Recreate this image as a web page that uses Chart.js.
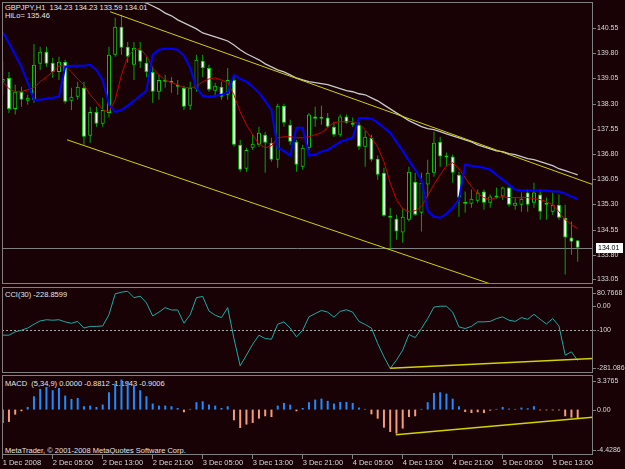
<!DOCTYPE html>
<html>
<head>
<meta charset="utf-8">
<script src="https://cdn.jsdelivr.net/npm/chart.js@4.4.1/dist/chart.umd.min.js"></script>
<style>
  html, body { margin: 0; padding: 0; background: #180206; }
  #wrap { position: relative; width: 625px; height: 469px; background: #180206; overflow: hidden;
          font-family: 'Liberation Sans', Arial, sans-serif; }
  canvas { position: absolute; left: 0; z-index: 1; }
  .lbl { position: absolute; z-index: 0; color: #e4e4e4; font-size: 7.5px; line-height: 9px; white-space: pre; }
</style>
</head>
<body>
<div id="wrap">
  <div class="lbl" style="left:5px;top:3px">GBPJPY,H1  134.23 134.23 133.59 134.01</div>
  <div class="lbl" style="left:5px;top:11px">HiLo= 135.46</div>
  <div class="lbl" style="left:5px;top:290px">CCI(30) -228.8599</div>
  <div class="lbl" style="left:5px;top:379px">MACD  (5,34,9) 0.0000 -0.8812 -1.1943 -0.9006</div>
  <div class="lbl" style="left:5px;top:446px">MetaTrader, © 2001-2008 MetaQuotes Software Corp.</div>
  <canvas id="main" style="top:0" width="625" height="286"></canvas>
  <canvas id="cci" style="top:285px" width="625" height="90"></canvas>
  <canvas id="macd" style="top:373px" width="625" height="96"></canvas>
</div>
<script>
// GBPJPY H1, one entry per bar (bar 0 = 1 Dec 21:00 ... bar 92 = 5 Dec 17:00)
const open = [138.95, 139.06, 138.14, 138.65, 138.38, 138.41, 139.48, 139.84, 139.51, 139.24,
  139.54, 138.38, 138.50, 138.77, 137.34, 138.05, 137.70, 138.02, 139.75, 140.58,
  139.99, 139.45, 139.90, 139.51, 139.24, 138.65, 138.98, 138.95, 138.80, 138.77,
  138.23, 138.74, 139.57, 139.36, 138.68, 138.80, 138.56, 139.00, 137.07, 136.36,
  136.98, 137.07, 137.37, 137.13, 136.63, 138.23, 137.67, 137.16, 136.42, 136.98,
  137.91, 137.85, 137.88, 137.61, 137.37, 137.91, 137.73, 137.67, 137.01, 137.28,
  136.66, 136.24, 134.90, 134.87, 134.46, 134.84, 135.97, 135.05, 135.89, 136.24,
  137.16, 136.69, 136.72, 136.18, 135.32, 135.32, 135.41, 135.68, 135.35, 135.53,
  135.53, 135.80, 135.26, 135.29, 135.65, 135.35, 135.59, 135.29, 135.08, 135.29,
  134.90, 134.31, 134.23];
const high = [139.54, 139.24, 138.86, 138.80, 138.56, 140.07, 139.99, 139.99, 139.66, 139.69,
  139.60, 138.77, 138.95, 138.95, 138.20, 138.20, 138.47, 139.99, 140.85, 140.94,
  140.13, 140.13, 140.13, 139.69, 139.39, 139.15, 139.15, 139.09, 139.00, 138.83,
  138.95, 139.75, 139.75, 139.45, 138.92, 138.95, 139.36, 139.15, 137.22, 136.98,
  137.37, 137.61, 137.46, 137.28, 138.29, 138.29, 137.82, 137.22, 137.07, 138.02,
  138.20, 138.23, 138.02, 137.76, 137.97, 137.97, 137.88, 137.76, 137.49, 137.37,
  136.75, 136.39, 135.20, 134.99, 135.20, 136.42, 136.24, 136.24, 136.63, 137.46,
  137.31, 136.84, 136.78, 136.27, 135.68, 135.74, 135.74, 135.74, 135.59, 135.80,
  135.83, 135.83, 135.50, 135.65, 135.74, 135.94, 135.74, 135.50, 135.65, 135.59,
  135.29, 134.79, 134.23];
const low = [138.56, 138.02, 137.97, 138.20, 138.26, 138.32, 139.30, 139.39, 139.06, 139.00,
  138.29, 138.11, 138.41, 137.07, 137.13, 137.61, 137.61, 137.88, 139.69, 139.75,
  139.51, 139.00, 139.36, 139.09, 138.32, 138.41, 138.77, 138.62, 138.56, 138.11,
  138.11, 138.65, 139.09, 138.65, 138.50, 138.41, 138.41, 137.01, 136.27, 136.27,
  136.92, 137.01, 136.24, 136.57, 136.39, 137.61, 137.07, 136.27, 136.33, 136.92,
  137.61, 137.67, 137.58, 137.31, 137.31, 137.70, 137.61, 136.92, 136.42, 136.57,
  136.03, 134.93, 133.95, 134.25, 134.16, 134.79, 134.96, 134.49, 135.50, 136.12,
  136.42, 136.42, 135.94, 134.93, 135.05, 135.20, 135.35, 135.14, 135.20, 135.47,
  135.44, 135.23, 135.14, 135.08, 135.08, 135.20, 134.84, 134.84, 134.99, 134.84,
  133.21, 133.80, 133.59];
const close = [139.03, 138.14, 138.65, 138.41, 138.47, 139.45, 139.84, 139.48, 139.24, 139.54,
  138.35, 138.50, 138.80, 137.31, 138.05, 137.70, 138.11, 139.75, 140.58, 139.96,
  139.69, 139.96, 139.54, 139.24, 138.65, 139.00, 138.95, 138.92, 138.83, 138.20,
  138.77, 139.60, 139.36, 138.71, 138.83, 138.50, 139.00, 137.07, 136.33, 136.92,
  137.10, 137.43, 137.13, 136.63, 138.23, 137.73, 137.16, 136.48, 136.98, 137.97,
  137.85, 137.88, 137.61, 137.37, 137.91, 137.73, 137.67, 137.01, 137.31, 136.63,
  136.18, 134.96, 134.96, 134.49, 134.93, 136.27, 134.99, 135.94, 136.24, 137.13,
  136.72, 136.75, 136.24, 135.50, 135.38, 135.47, 135.65, 135.35, 135.53, 135.50,
  135.80, 135.29, 135.35, 135.47, 135.29, 135.65, 135.08, 135.35, 135.29, 134.90,
  134.31, 134.19, 134.01];

// HiLo (blue), short MA (red), long MA (silver)
const hilo = [140.43, 140.10, 139.75, 139.39, 138.92, 138.41, 138.41, 138.44, 138.47, 138.50,
  139.39, 139.42, 139.42, 139.42, 139.45, 139.30, 139.00, 138.26, 138.05, 138.11,
  138.23, 138.38, 138.53, 138.68, 139.75, 139.90, 139.93, 139.93, 139.90, 139.72,
  139.36, 138.77, 138.53, 138.50, 138.53, 138.56, 138.62, 139.15, 139.03, 138.95,
  138.80, 138.62, 138.38, 138.11, 136.98, 136.89, 136.75, 137.58, 137.58, 136.75,
  136.78, 136.87, 136.92, 137.04, 137.16, 137.22, 137.28, 137.87, 137.87, 137.85,
  137.73, 137.58, 137.43, 137.16, 136.89, 136.60, 136.33, 136.03, 135.11, 134.93,
  134.90, 135.02, 135.20, 135.44, 136.48, 136.45, 136.42, 136.39, 136.33, 136.18,
  136.03, 135.89, 135.74, 135.71, 135.71, 135.71, 135.71, 135.71, 135.68, 135.68,
  135.62, 135.53, 135.46];
const maFast = [138.95, 138.74, 138.65, 138.65, 138.71, 138.77, 138.95, 139.09, 139.24, 139.42,
  139.42, 139.24, 139.03, 138.86, 138.56, 138.35, 138.11, 138.05, 138.41, 139.15,
  139.69, 139.90, 139.93, 139.72, 139.36, 139.15, 139.00, 138.92, 138.86, 138.77,
  138.77, 138.80, 138.95, 139.03, 139.06, 139.00, 138.92, 138.56, 138.05, 137.67,
  137.37, 137.10, 136.98, 137.04, 137.28, 137.31, 137.31, 137.28, 137.28, 137.31,
  137.37, 137.43, 137.58, 137.73, 137.76, 137.76, 137.76, 137.70, 137.52, 137.28,
  137.01, 136.57, 135.94, 135.44, 135.17, 135.08, 135.11, 135.23, 135.56, 135.89,
  136.18, 136.45, 136.54, 136.36, 136.09, 135.83, 135.62, 135.50, 135.44, 135.50,
  135.53, 135.50, 135.50, 135.50, 135.50, 135.47, 135.44, 135.38, 135.29, 135.08,
  134.84, 134.70, 134.58];
const maSlow = [null, null, null, null, null, null, null, null, null, null,
  null, null, null, null, null, null, null, null, null, null,
  null, null, 141.35, 141.29, 141.20, 141.11, 140.99, 140.91, 140.79, 140.70,
  140.61, 140.52, 140.40, 140.34, 140.28, 140.22, 140.16, 140.04, 139.90, 139.78,
  139.69, 139.60, 139.48, 139.39, 139.30, 139.24, 139.15, 139.06, 139.00, 138.95,
  138.92, 138.89, 138.86, 138.80, 138.74, 138.68, 138.65, 138.59, 138.56, 138.47,
  138.38, 138.26, 138.14, 138.02, 137.91, 137.79, 137.70, 137.61, 137.55, 137.52,
  137.46, 137.40, 137.34, 137.28, 137.22, 137.16, 137.07, 137.01, 136.95, 136.89,
  136.87, 136.81, 136.78, 136.72, 136.66, 136.63, 136.57, 136.51, 136.45, 136.36,
  136.30, 136.24, 136.18];

// CCI(30) and MACD(5,34,9) histogram
const cci = [-122, -122, -108, -101, -92, -76, -62, -57, -59, -57,
  -66, -72, -64, -92, -85, -85, -83, -36, 52, 59,
  63, 36, 42, 14, -41, -25, -6, -16, -16, -71,
  -36, 36, 41, -20, -38, -48, -6, -136, -251, -206,
  -160, -122, -136, -139, -76, -66, -92, -129, -101, -45,
  -31, -18, -25, -46, -22, -15, -25, -64, -77, -92,
  -157, -213, -262, -227, -185, -119, -132, -94, -52, -4,
  0, 0, -25, -87, -94, -85, -66, -66, -64, -52,
  -45, -59, -64, -48, -55, -34, -55, -75, -52, -83,
  -206, -192, -228.86];
const macd = [-1.30, -1.20, -0.49, -0.16, 0.26, 1.30, 2.02, 2.21, 1.89, 2.11,
  1.37, 1.04, 1.14, 0.33, 0.39, 0.26, 0.49, 1.69, 2.54, 2.93,
  2.76, 2.44, 1.89, 1.30, 0.59, 0.39, 0.39, 0.33, 0.16, -0.26,
  0.07, 0.72, 0.81, 0.49, 0.39, 0.16, 0.33, -1.04, -1.79, -1.46,
  -1.30, -0.88, -0.65, -0.72, 0.39, 0.65, 0.49, -0.16, 0.16, 0.72,
  0.98, 1.07, 0.85, 0.59, 0.75, 0.75, 0.65, 0.20, 0.07, -0.46,
  -0.88, -1.76, -2.18, -2.34, -1.85, -0.72, -0.65, 0.07, 0.72, 1.63,
  1.69, 1.56, 1.07, 0.33, -0.23, -0.33, -0.26, -0.33, -0.10, 0.07,
  0.26, 0.10, 0.07, 0.20, 0.13, 0.33, -0.07, -0.07, -0.07, -0.07,
  -0.65, -0.78, -0.88];

// trend lines drawn on the chart: [bar, value] pairs
const trendUpper = [[17.2, 141.03], [94.4, 135.89]];
const trendLower = [[10.3, 137.22], [78.4, 132.91]];
const trendCci = [[62, -261.5], [94.4, -219.7]];
const trendMacd = [[62.9, -2.45], [94.4, -0.75]];

// axis ticks
const tickBars = [0, 8, 16, 24, 32, 40, 48, 56, 64, 72, 80, 88];
const tickLabels = ['1 Dec 2008', '2 Dec 05:00', '2 Dec 13:00', '2 Dec 21:00', '3 Dec 05:00', '3 Dec 13:00',
  '3 Dec 21:00', '4 Dec 05:00', '4 Dec 13:00', '4 Dec 21:00', '5 Dec 05:00', '5 Dec 13:00'];
const priceTicks = [140.55, 139.80, 139.05, 138.30, 137.55, 136.80, 136.05, 135.30, 134.55, 133.80, 133.05];
const cciTicks = [80.7668, 0, -100, -281.086];
const cciTickLabels = ['80.7668', '0.00', '-100', '-281.086'];
const macdTicks = [3.3765, 0, -4.4286];
const macdTickLabels = ['3.3765', '0.00', '-4.4286'];

const BG = '#180206';
const GRID = '#808080';
const TXT = '#d8d8d8';
const FONT = '7px "Liberation Sans", Arial, sans-serif';
const xMin = -0.112, xMax = 94.45;

const pts = arr => arr.map((v, i) => ({x: i, y: v}));
const seg = arr => arr.map(p => ({x: p[0], y: p[1]}));

// frame, right scale labels, level lines and the price box
const frame = {
  id: 'frame',
  beforeDatasetsDraw(chart, args, o) {
    const {ctx, chartArea: a} = chart;
    const y = chart.scales.y;
    ctx.save();
    (o.levels || []).forEach(lv => {
      const py = Math.round(y.getPixelForValue(lv.value)) + 0.5;
      ctx.strokeStyle = lv.color;
      ctx.lineWidth = 1;
      ctx.setLineDash(lv.dash || []);
      ctx.beginPath(); ctx.moveTo(a.left, py); ctx.lineTo(a.right, py); ctx.stroke();
    });
    ctx.restore();
  },
  afterDraw(chart, args, o) {
    const {ctx, chartArea: a} = chart;
    const y = chart.scales.y;
    ctx.save();
    ctx.strokeStyle = GRID;
    ctx.lineWidth = 1;
    ctx.strokeRect(a.left + 0.5, a.top + 0.5, a.right - a.left - 1, a.bottom - a.top - 1);
    ctx.font = FONT;
    ctx.textBaseline = 'middle';
    o.ticks.forEach((v, k) => {
      let py = Math.round(y.getPixelForValue(v));
      py = Math.min(Math.max(py, a.top + 6), a.bottom - 5);
      ctx.strokeStyle = GRID;
      ctx.beginPath(); ctx.moveTo(a.right, py + 0.5); ctx.lineTo(a.right + 3, py + 0.5); ctx.stroke();
      ctx.fillStyle = TXT;
      ctx.fillText(o.labels[k], a.right + 4, py);
    });
    if (o.lastPrice !== undefined) {
      const py = Math.round(y.getPixelForValue(o.lastPrice));
      ctx.fillStyle = '#ffffff';
      ctx.fillRect(a.right + 3, py - 5, 27, 10);
      ctx.fillStyle = '#000000';
      ctx.fillText(o.lastPrice.toFixed(2), a.right + 5, py);
    }
    ctx.restore();
  }
};

function xScale(show) {
  return {
    type: 'linear', min: xMin, max: xMax, offset: false, display: show,
    afterBuildTicks: s => { s.ticks = tickBars.map(v => ({value: v})); },
    afterFit: s => { if (show) s.height = 14; },
    ticks: {
      autoSkip: false, maxRotation: 0, minRotation: 0, align: 'start', padding: -1, color: TXT,
      font: {size: 7.5, family: '"Liberation Sans", Arial, sans-serif'},
      callback: (v, i) => tickLabels[i]
    },
    grid: {offset: false, drawOnChartArea: false, tickLength: 4, color: GRID},
    border: {display: false}
  };
}

function panel(id, datasets, yMin, yMax, frameOpts, showX) {
  return new Chart(document.getElementById(id), {
    type: 'bar',
    data: {datasets},
    options: {
      responsive: false, animation: false, events: [],
      layout: {padding: {left: 2, right: 32, top: 2, bottom: showX ? 0 : 2}},
      scales: {
        x: xScale(showX),
        y: {type: 'linear', display: false, min: yMin, max: yMax}
      },
      plugins: {legend: {display: false}, tooltip: {enabled: false}, frame: frameOpts}
    },
    plugins: [frame]
  });
}

const lineDs = (data, color, width, order) => ({
  type: 'line', data, borderColor: color, borderWidth: width, pointRadius: 0,
  tension: 0, fill: false, spanGaps: false, order
});

// main price panel
panel('main', [
  lineDs(seg(trendUpper), '#d2d200', 1, 0),
  lineDs(seg(trendLower), '#d2d200', 1, 0),
  lineDs(pts(hilo), '#0000ff', 2, 1),
  lineDs(pts(maFast), '#cc0000', 1, 1),
  lineDs(pts(maSlow), '#c8c8c8', 1.3, 1),
  {
    data: open.map((o, i) => ({x: i, y: [o, close[i]]})),
    backgroundColor: open.map((o, i) => close[i] < o ? '#ffffff' : BG),
    borderColor: '#00dc00', borderWidth: 1, borderSkipped: false,
    barThickness: 4, grouped: false, inflateAmount: 0, minBarLength: 2, order: 3
  },
  {
    data: high.map((h, i) => ({x: i, y: [low[i], h]})),
    backgroundColor: '#00a800', borderWidth: 0,
    barThickness: 1, grouped: false, inflateAmount: 0, order: 4
  }
], 132.93, 141.32, {
  ticks: priceTicks, labels: priceTicks.map(v => v.toFixed(2)),
  levels: [{value: close[close.length - 1], color: GRID}],
  lastPrice: close[close.length - 1]
}, false);

// CCI panel
panel('cci', [
  lineDs(seg(trendCci), '#d2d200', 1.5, 0),
  lineDs(pts(cci), '#20aaa4', 1, 1)
], -281.086, 80.7668, {
  ticks: cciTicks, labels: cciTickLabels,
  levels: [{value: -100, color: '#a8a8a8', dash: [2, 2]}]
}, false);

// MACD panel
panel('macd', [
  lineDs(seg(trendMacd), '#d2d200', 1.5, 0),
  {
    data: pts(macd),
    backgroundColor: macd.map(v => v >= 0 ? '#1e8cff' : '#f49c7c'),
    borderWidth: 0, barThickness: 2, grouped: false, inflateAmount: 0, order: 2
  }
], -4.4286, 3.3765, {
  ticks: macdTicks, labels: macdTickLabels
}, true);
</script>
</body>
</html>
